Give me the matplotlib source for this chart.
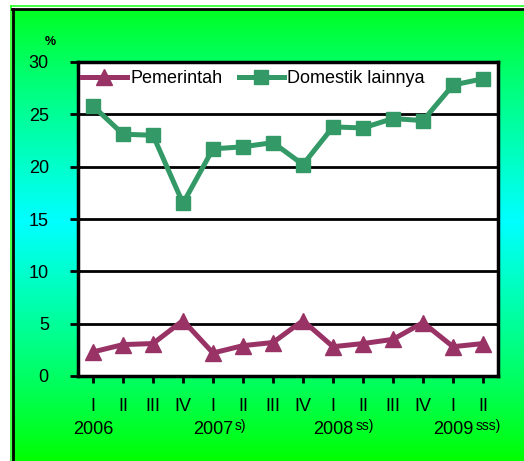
import numpy as np
import matplotlib
matplotlib.use("Agg")
import matplotlib.pyplot as plt
from matplotlib.lines import Line2D

plt.rcParams['font.family'] = ['Liberation Sans', 'DejaVu Sans']

quarters = ["I", "II", "III", "IV", "I", "II", "III", "IV", "I", "II", "III", "IV", "I", "II"]
years = ["2006", "2007", "2008", "2009"]
year_marks = ["", "s)", "ss)", "sss)"]
year_pos = [0, 4, 8, 12]
pemerintah = [2.3, 3.0, 3.1, 5.3, 2.2, 2.9, 3.2, 5.3, 2.8, 3.1, 3.5, 5.1, 2.8, 3.1]
domestik = [25.8, 23.1, 23.0, 16.5, 21.7, 21.9, 22.3, 20.2, 23.8, 23.7, 24.6, 24.4, 27.8, 28.4]

W, H = 524, 461
fig = plt.figure(figsize=(W / 100, H / 100), dpi=100)
fig.patch.set_facecolor("white")

# gradient background
bg = fig.add_axes([12 / W, 0, 1 - 12 / W, (H - 9) / H], zorder=-10)
n = 256
t = np.linspace(0, 1, n)
center = 0.47
b = np.where(t < center, t / center, (1 - t) / (1 - center))
b = np.clip(b, 0, 1)
img = np.zeros((n, 1, 3))
img[:, 0, 0] = 0
img[:, 0, 1] = 1
img[:, 0, 2] = np.clip(b ** 0.9, 0, 1) * 1.0 + (1 - b) * np.where(t < center, 0.12, 0.0)
bg.imshow(img, aspect="auto", extent=[0, 1, 0, 1], origin="upper")
bg.set_xlim(0, 1)
bg.set_ylim(0, 1)
bg.axis("off")

# frame lines
fig.add_artist(Line2D([10.5 / W, 10.5 / W], [0, 1 - 6 / H], color="#22ff22", lw=1.2, transform=fig.transFigure))
fig.add_artist(Line2D([10.5 / W, 1], [1 - 6 / H, 1 - 6 / H], color="#22ff22", lw=1.2, transform=fig.transFigure))
fig.add_artist(Line2D([13 / W, 13 / W], [0, 1 - 9 / H], color="black", lw=2, transform=fig.transFigure))
fig.add_artist(Line2D([12 / W, 1], [1 - 9 / H, 1 - 9 / H], color="black", lw=2, transform=fig.transFigure))

ax = fig.add_axes([78 / W, 1 - 376 / H, (498 - 78) / W, (376 - 62) / H])
ax.set_facecolor("white")
x = np.arange(len(quarters))

ax.plot(x, pemerintah, color="#993366", lw=3.6, marker="^", markersize=11,
        label="Pemerintah", solid_joinstyle="round", zorder=3, clip_on=False)
ax.plot(x, domestik, color="#339966", lw=3.6, marker="s", markersize=10.5,
        label="Domestik lainnya", solid_joinstyle="round", zorder=3, clip_on=False)

ax.set_xlim(-0.5, len(quarters) - 0.5)
ax.set_ylim(0, 30)
ax.set_yticks(np.arange(0, 31, 5))
ax.set_yticklabels([str(v) for v in range(0, 31, 5)])
for yv in range(5, 30, 5):
    ax.axhline(yv, color="black", lw=2, zorder=1)

ax.set_xticks(x)
ax.set_xticklabels(quarters)
ax.tick_params(axis="y", direction="out", length=6, width=2, pad=15, labelsize=13)
ax.tick_params(axis="x", direction="out", length=5, width=2, pad=11, labelsize=13)
for s in ax.spines.values():
    s.set_linewidth(2.5)
    s.set_color("black")

trans = ax.get_xaxis_transform()
for yp, yr, mk in zip(year_pos, years, year_marks):
    tt = ax.text(yp, -0.142, yr, transform=trans, ha="center", va="top", fontsize=13)
    if mk:
        ax.annotate(mk, xy=(1, 1), xycoords=tt, xytext=(1.5, 1.5), textcoords="offset points",
                    ha="left", va="top", fontsize=10)

fig.text(50 / W, 1 - 42 / H, "%", ha="center", va="center", fontsize=9, fontweight="bold")

ax.legend(loc="upper left", bbox_to_anchor=(0.0, 0.985), ncol=2, frameon=False,
          fontsize=13, handlelength=2.5, handletextpad=0.2, columnspacing=0.9,
          borderpad=0.0, borderaxespad=0.2)

fig.savefig("out.png", dpi=100)
